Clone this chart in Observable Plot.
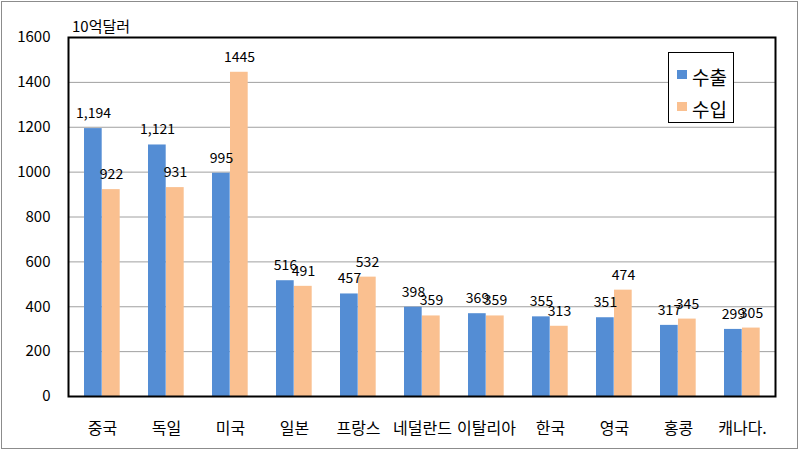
<!DOCTYPE html>
<html>
<head>
<meta charset="utf-8">
<script src="https://cdn.jsdelivr.net/npm/d3@7"></script>
<script src="https://cdn.jsdelivr.net/npm/@observablehq/plot@0.6"></script>
<style>
  html, body { margin: 0; padding: 0; background: #fff; }
  #wrap { position: relative; width: 800px; height: 451px; font-family: "Malgun Gothic", "Noto Sans CJK KR", sans-serif; }
  #border { position: absolute; left: 1px; top: 1px; width: 795px; height: 446px; border: 1px solid #8c8c8c; pointer-events: none; }
  #unit { position: absolute; left: 72px; top: 15px; font-size: 15px; color: #000; }
  #legend { position: absolute; left: 668px; top: 52px; width: 64px; height: 69px; border: 1px solid #000; background: #fff; }
  .li { position: absolute; left: 8px; display: flex; align-items: center; font-size: 19px; line-height: 20px; }
  .sw { width: 10px; height: 9px; margin-right: 5px; margin-top: -6px; }
</style>
</head>
<body>
<div id="wrap">
  <div id="chart"></div>
  <div id="unit">10억달러</div>
  <div id="legend"></div>
  <div id="border"></div>
</div>
<script>
const countries = ["중국", "독일", "미국", "일본", "프랑스", "네덜란드", "이탈리아", "한국", "영국", "홍콩", "캐나다."];
const seriesNames = ["수출", "수입"];
const exportValues = [1194, 1121, 995, 516, 457, 398, 369, 355, 351, 317, 299];
const importValues = [922, 931, 1445, 491, 532, 359, 359, 313, 474, 345, 305];
const exportLabels = ["1,194", "1,121", "995", "516", "457", "398", "369", "355", "351", "317", "299"];
const importLabels = ["922", "931", "1445", "491", "532", "359", "359", "313", "474", "345", "305"];
const yTicks = [0, 200, 400, 600, 800, 1000, 1200, 1400, 1600];
const colors = ["#548dd4", "#fac090"];

const exportData = countries.map((c, i) => ({country: c, series: seriesNames[0], value: exportValues[i], label: exportLabels[i]}));
const importData = countries.map((c, i) => ({country: c, series: seriesNames[1], value: importValues[i], label: importLabels[i]}));

const font = '"Malgun Gothic", "Noto Sans CJK KR", sans-serif';

const chart = Plot.plot({
  width: 800,
  height: 451,
  marginLeft: 68,
  marginRight: 25,
  marginTop: 37,
  marginBottom: 55,
  style: {fontFamily: font, color: "#000", background: "transparent"},
  x: {domain: countries, padding: 0, label: null},
  y: {domain: [0, 1600], label: null},
  marks: [
    Plot.ruleY(yTicks, {stroke: "#a0a0a0", strokeWidth: 1}),
    Plot.barY(exportData, {x: "country", y: "value", fill: colors[0], insetLeft: 14, insetRight: 32.3}),
    Plot.barY(importData, {x: "country", y: "value", fill: colors[1], insetLeft: 32, insetRight: 14.3}),
    Plot.text(exportData, {x: "country", y: "value", text: "label", dx: -9, dy: -15, fontSize: 14, fill: "#000"}),
    Plot.text(importData, {x: "country", y: "value", text: "label", dx: 9, dy: -15, fontSize: 14, fill: "#000"}),
    Plot.axisY({ticks: yTicks, tickSize: 0, tickPadding: 18, fontSize: 15, label: null, tickFormat: d => String(d)}),
    Plot.axisX({tickSize: 0, tickPadding: 26, fontSize: 16, label: null}),
    Plot.frame({stroke: "#000", strokeWidth: 2})
  ]
});
document.getElementById("chart").appendChild(chart);

const legend = document.getElementById("legend");
seriesNames.forEach((name, i) => {
  const row = document.createElement("div");
  row.className = "li";
  row.style.top = (i === 0 ? 14 : 46) + "px";
  const sw = document.createElement("span");
  sw.className = "sw";
  sw.style.background = colors[i];
  const t = document.createElement("span");
  t.textContent = name;
  row.appendChild(sw);
  row.appendChild(t);
  legend.appendChild(row);
});
</script>
</body>
</html>
